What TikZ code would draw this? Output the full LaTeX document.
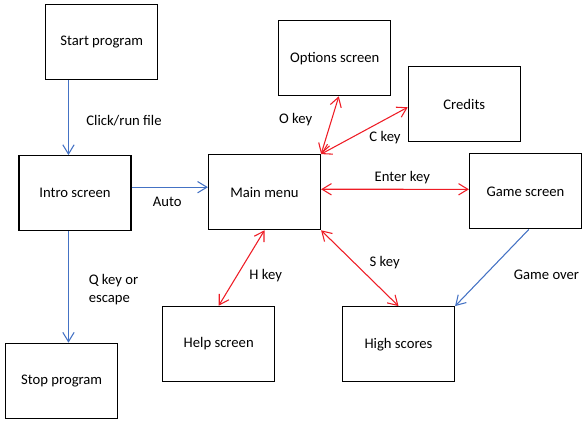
\documentclass[tikz,border=0pt]{standalone}
\usepackage{fontspec}
\setmainfont{Carlito}
\usetikzlibrary{arrows.meta}
\definecolor{flowblue}{HTML}{4472C4}
\definecolor{keyred}{HTML}{EE1C25}

\begin{document}
\begin{tikzpicture}[x=0.75pt,y=-0.75pt,font=\fontsize{11}{13.5}\selectfont,
  screen/.style={draw, line width=0.9pt, minimum width=84pt, minimum height=56.25pt},
  lbl/.style={inner sep=0pt},
  tip/.style={Straight Barb[length=7pt,width=8.5pt]},
  flow/.style={flowblue, line width=0.8pt, -{Straight Barb[length=7pt,width=8.5pt]}},
  keypath/.style={keyred, line width=0.8pt, {Straight Barb[length=7pt,width=8.5pt]}-{Straight Barb[length=7pt,width=8.5pt]}}]
  \useasboundingbox (0,0) rectangle (588,427);
  \node[screen] (start) at (101.7,42.2) {Start program};
  \node[screen] (intro) at (75.0,193.2) {Intro screen};
  \node[screen] (stop) at (61.7,380.8) {Stop program};
  \node[screen] (main) at (264.5,192.2) {Main menu};
  \node[screen] (options) at (334.8,58.2) {Options screen};
  \node[screen] (credits) at (464.3,104.2) {Credits};
  \node[screen] (game) at (525.5,191.3) {Game screen};
  \node[screen] (help) at (218.7,343.8) {Help screen};
  \node[screen] (scores) at (398.5,344.2) {High scores};
  % Draw the blue program flow
  \draw[flow] ([xshift=-4.9pt]intro.north |- start.south) -- ([xshift=-4.9pt]intro.north);
  \draw[flow] ([yshift=4.5pt]intro.east) -- ([yshift=4.5pt]intro.east -| main.west);
  \draw[flow] ([xshift=-4.9pt]intro.south) -- ([xshift=-4.9pt]intro.south |- stop.north);
  \draw[flow] ([xshift=2.5pt]game.south) -- (scores.north east);
  % Draw the red key presses
  \draw[keypath] (main.north east) -- ([xshift=3pt]options.south);
  \draw[keypath] (main.north east) -- ([yshift=-2.3pt]credits.west);
  \draw[keypath] ([yshift=2.2pt]main.east) -- ([yshift=1.5pt]game.west);
  \draw[keypath] (main.south) -- (help.north);
  \draw[keypath] (main.south east) -- (scores.north);
  % Labels
  \node[lbl] (lclick) at (124,121) {Click/run file};
  \node[lbl] (lauto) at (167.3,202.3) {Auto};
  \node[lbl, anchor=west, align=left] (lquit) at (88.5,290) {Q key or\\escape};
  \node[lbl] (lokey) at (295.7,119.3) {O key};
  \node[lbl] (lckey) at (385,138) {C key};
  \node[lbl] (lenter) at (402.3,177.3) {Enter key};
  \node[lbl] (lhkey) at (265.7,275.7) {H key};
  \node[lbl] (lskey) at (384.7,262.7) {S key};
  \node[lbl] (lover) at (546.5,274.3) {Game over};
\end{tikzpicture}
\end{document}
